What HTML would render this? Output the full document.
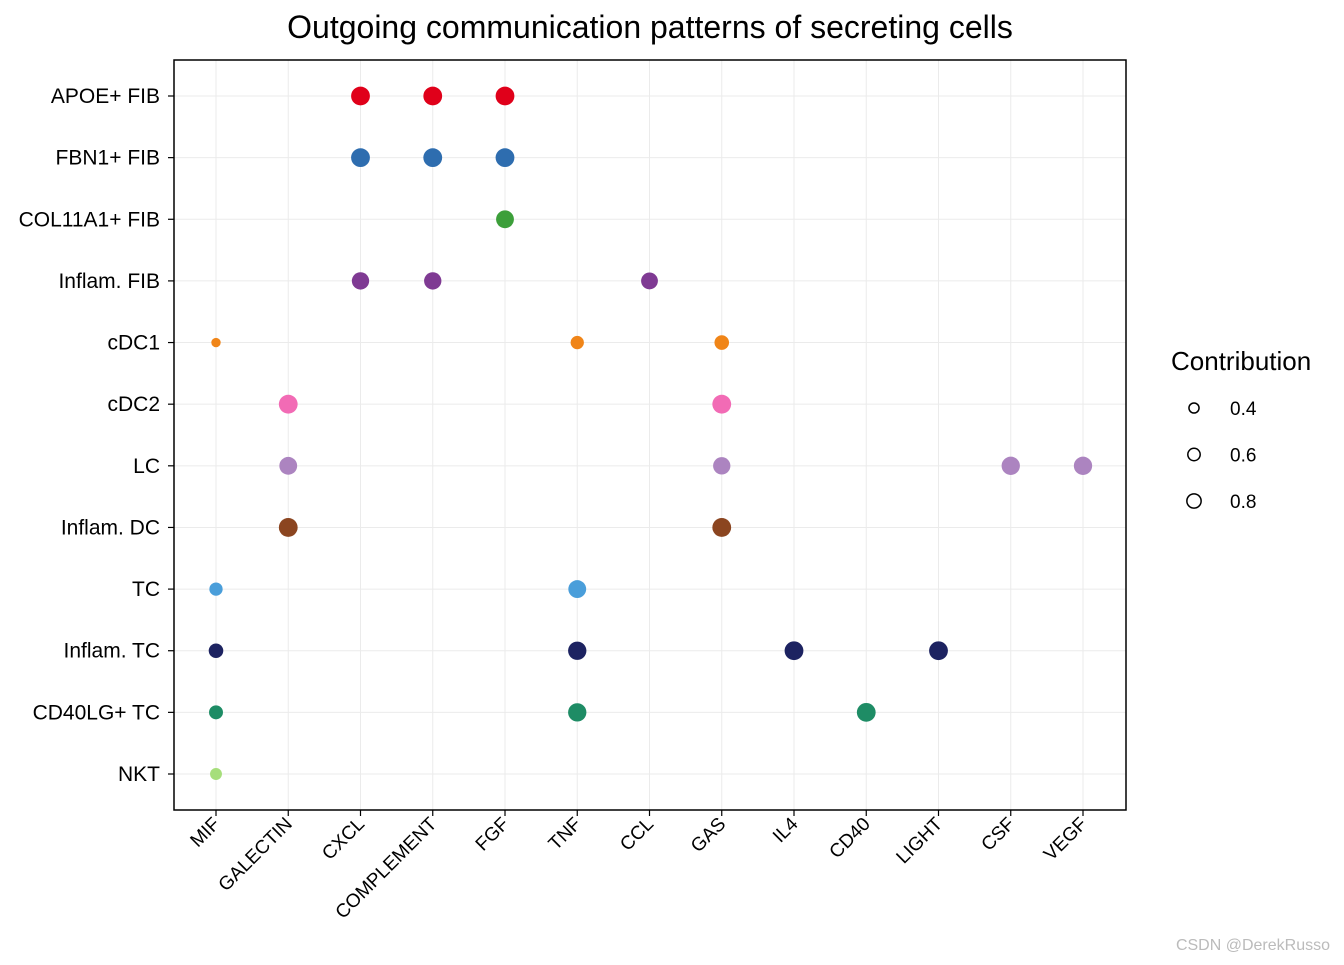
<!DOCTYPE html>
<html><head><meta charset="utf-8"><style>
body{margin:0;background:#fff;}
svg text{font-family:"Liberation Sans",Arial,sans-serif;}
</style></head><body>
<svg id="chart" width="1344" height="960" xmlns="http://www.w3.org/2000/svg">
<text x="650" y="38" text-anchor="middle" font-size="32" fill="#000">Outgoing communication patterns of secreting cells</text>
<g id="grid"></g>
<g id="dots"></g>
<rect x="174" y="60" width="952" height="750" fill="none" stroke="#000" stroke-width="1.5"/>
<g id="xaxis"></g>
<g id="yaxis"></g>
<g id="legend">
<text x="1171" y="370" font-size="26">Contribution</text>
</g>
<text x="1330" y="950" text-anchor="end" font-size="16" fill="#bbb">CSDN @DerekRusso</text>
</svg>
<script>
const pathways=["MIF","GALECTIN","CXCL","COMPLEMENT","FGF","TNF","CCL","GAS","IL4","CD40","LIGHT","CSF","VEGF"];
const cellTypes=["APOE+ FIB","FBN1+ FIB","COL11A1+ FIB","Inflam. FIB","cDC1","cDC2","LC","Inflam. DC","TC","Inflam. TC","CD40LG+ TC","NKT"];
const cellColors=["#E0001A","#2E6DAF","#3C9F3A","#7F3A93","#F08518","#F26BB5","#AC84C0","#8B4520","#4A9EDA","#1D2361","#1E8C65","#A6DE7B"];
const dotCell=["APOE+ FIB","APOE+ FIB","APOE+ FIB","FBN1+ FIB","FBN1+ FIB","FBN1+ FIB","COL11A1+ FIB","Inflam. FIB","Inflam. FIB","Inflam. FIB","cDC1","cDC1","cDC1","cDC2","cDC2","LC","LC","LC","LC","Inflam. DC","Inflam. DC","TC","TC","Inflam. TC","Inflam. TC","Inflam. TC","Inflam. TC","CD40LG+ TC","CD40LG+ TC","CD40LG+ TC","NKT"];
const dotPathway=["CXCL","COMPLEMENT","FGF","CXCL","COMPLEMENT","FGF","FGF","CXCL","COMPLEMENT","CCL","MIF","TNF","GAS","GALECTIN","GAS","GALECTIN","GAS","CSF","VEGF","GALECTIN","GAS","MIF","TNF","MIF","TNF","IL4","LIGHT","MIF","TNF","CD40","MIF"];
const dotValue=[1,1,1,1,1,1,0.9,0.85,0.85,0.8,0.25,0.5,0.6,1,1,0.9,0.85,0.95,0.95,1,1,0.5,0.9,0.6,0.95,1,1,0.55,0.95,1,0.4];
const legendValues=[0.4,0.6,0.8];

const ns="http://www.w3.org/2000/svg";
const x0=174,x1=1126,y0=60,y1=810;
const xFirst=216,xLast=1083,yFirst=96,yLast=774;
function xPos(p){return xFirst+(xLast-xFirst)*pathways.indexOf(p)/(pathways.length-1);}
function yPos(c){return yFirst+(yLast-yFirst)*cellTypes.indexOf(c)/(cellTypes.length-1);}
function rad(v){return 9.4*Math.sqrt(v);}
function mk(tag,attrs,parent){const e=document.createElementNS(ns,tag);for(const k in attrs)e.setAttribute(k,attrs[k]);parent.appendChild(e);return e;}
const grid=document.getElementById('grid'),dots=document.getElementById('dots'),xa=document.getElementById('xaxis'),ya=document.getElementById('yaxis'),lg=document.getElementById('legend');
pathways.forEach(p=>{
  const x=xPos(p);
  const g=mk('line',{x1:x,x2:x,y1:y0,y2:y1,stroke:'#ebebeb','stroke-width':1},grid);
  
  
  const t=mk('line',{x1:x,x2:x,y1:y1,y2:y1+6,stroke:'#000','stroke-width':1.2},xa);
  
  
  const l=mk('text',{x:x+5,y:y1+15,'text-anchor':'end','font-size':19,transform:`rotate(-45 ${x+5} ${y1+15})`},xa);
  l.textContent=p;
  
  
});
cellTypes.forEach(c=>{
  const y=yPos(c);
  const g=mk('line',{x1:x0,x2:x1,y1:y,y2:y,stroke:'#ebebeb','stroke-width':1},grid);
  
  
  const t=mk('line',{x1:x0-6,x2:x0,y1:y,y2:y,stroke:'#000','stroke-width':1.2},ya);
  
  
  const l=mk('text',{x:x0-14,y:y+7,'text-anchor':'end','font-size':21},ya);
  l.textContent=c;
  
  
});
dotValue.forEach((v,i)=>{
  const c=dotCell[i];
  const d=mk('circle',{cx:xPos(dotPathway[i]),cy:yPos(c),r:rad(v),fill:cellColors[cellTypes.indexOf(c)]},dots);
  
  
});
legendValues.forEach((v,i)=>{
  const y=408+i*46.5;
  const c=mk('circle',{cx:1194,cy:y,r:rad(v)*0.85,fill:'none',stroke:'#000','stroke-width':1.5},lg);
  
  
  const t=mk('text',{x:1230,y:y+7,'font-size':19},lg);
  t.textContent=v.toFixed(1);
  
  
});
</script>
</body></html>
